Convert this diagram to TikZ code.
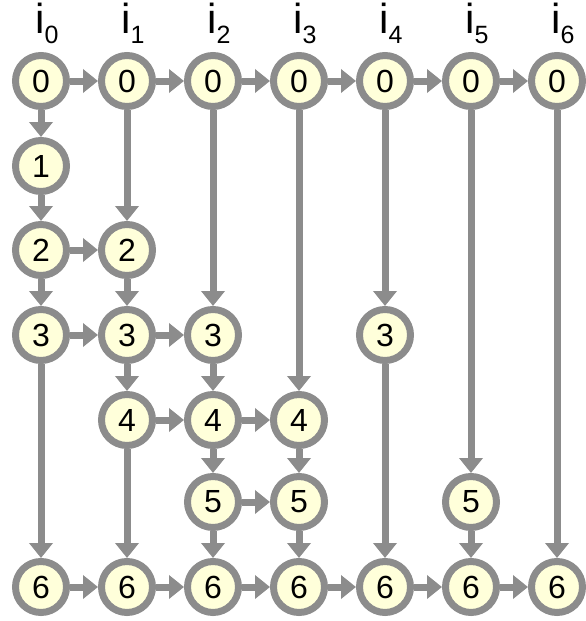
\documentclass[tikz,border=0pt]{standalone}
\usepackage{fontspec}
\setmainfont{Liberation Sans}
\usetikzlibrary{arrows.meta}
\definecolor{edgegray}{RGB}{140,140,140}
\definecolor{nodefill}{RGB}{255,255,218}
\begin{document}
\begin{tikzpicture}[x=1pt,y=-1pt,
  vtx/.style={circle,draw=edgegray,fill=nodefill,line width=7pt,minimum size=51pt,inner sep=0pt,font=\fontsize{32}{32}\selectfont},
  link/.style={draw=edgegray,line width=7pt,-{Triangle[width=23pt,length=15pt]}},
  lbl/.style={anchor=base,inner sep=0pt,font=\fontsize{42}{42}\selectfont}]
\useasboundingbox (0,0) rectangle (586,621);
% column labels
\node[lbl] (l0) at (40,33) {i\rlap{\raisebox{-10pt}{\fontsize{25}{25}\selectfont 0}}};
\node[lbl] (l1) at (126,33) {i\rlap{\raisebox{-10pt}{\fontsize{25}{25}\selectfont 1}}};
\node[lbl] (l2) at (212,33) {i\rlap{\raisebox{-10pt}{\fontsize{25}{25}\selectfont 2}}};
\node[lbl] (l3) at (298,33) {i\rlap{\raisebox{-10pt}{\fontsize{25}{25}\selectfont 3}}};
\node[lbl] (l4) at (384,33) {i\rlap{\raisebox{-10pt}{\fontsize{25}{25}\selectfont 4}}};
\node[lbl] (l5) at (470,33) {i\rlap{\raisebox{-10pt}{\fontsize{25}{25}\selectfont 5}}};
\node[lbl] (l6) at (556,33) {i\rlap{\raisebox{-10pt}{\fontsize{25}{25}\selectfont 6}}};
% row 0
\node[vtx] (a0) at (41,81) {0};
\node[vtx] (b0) at (127,81) {0};
\node[vtx] (c0) at (213,81) {0};
\node[vtx] (d0) at (299,81) {0};
\node[vtx] (e0) at (385,81) {0};
\node[vtx] (f0) at (471,81) {0};
\node[vtx] (g0) at (557,81) {0};
% row 1
\node[vtx] (a1) at (41,166) {1};
% row 2
\node[vtx] (a2) at (41,250) {2};
\node[vtx] (b2) at (127,250) {2};
% row 3
\node[vtx] (a3) at (41,335) {3};
\node[vtx] (b3) at (127,335) {3};
\node[vtx] (c3) at (213,335) {3};
\node[vtx] (e3) at (385,335) {3};
% row 4
\node[vtx] (b4) at (127,420) {4};
\node[vtx] (c4) at (213,420) {4};
\node[vtx] (d4) at (299,420) {4};
% row 5
\node[vtx] (c5) at (213,502) {5};
\node[vtx] (d5) at (299,502) {5};
\node[vtx] (f5) at (471,502) {5};
% row 6
\node[vtx] (a6) at (41,587) {6};
\node[vtx] (b6) at (127,587) {6};
\node[vtx] (c6) at (213,587) {6};
\node[vtx] (d6) at (299,587) {6};
\node[vtx] (e6) at (385,587) {6};
\node[vtx] (f6) at (471,587) {6};
\node[vtx] (g6) at (557,587) {6};
% horizontal links
\draw[link] (a0) -- (b0);
\draw[link] (b0) -- (c0);
\draw[link] (c0) -- (d0);
\draw[link] (d0) -- (e0);
\draw[link] (e0) -- (f0);
\draw[link] (f0) -- (g0);
\draw[link] (a2) -- (b2);
\draw[link] (a3) -- (b3);
\draw[link] (b3) -- (c3);
\draw[link] (b4) -- (c4);
\draw[link] (c4) -- (d4);
\draw[link] (c5) -- (d5);
\draw[link] (a6) -- (b6);
\draw[link] (b6) -- (c6);
\draw[link] (c6) -- (d6);
\draw[link] (d6) -- (e6);
\draw[link] (e6) -- (f6);
\draw[link] (f6) -- (g6);
% vertical links
\draw[link] (a0) -- (a1);
\draw[link] (a1) -- (a2);
\draw[link] (a2) -- (a3);
\draw[link] (a3) -- (a6);
\draw[link] (b0) -- (b2);
\draw[link] (b2) -- (b3);
\draw[link] (b3) -- (b4);
\draw[link] (b4) -- (b6);
\draw[link] (c0) -- (c3);
\draw[link] (c3) -- (c4);
\draw[link] (c4) -- (c5);
\draw[link] (c5) -- (c6);
\draw[link] (d0) -- (d4);
\draw[link] (d4) -- (d5);
\draw[link] (d5) -- (d6);
\draw[link] (e0) -- (e3);
\draw[link] (e3) -- (e6);
\draw[link] (f0) -- (f5);
\draw[link] (f5) -- (f6);
\draw[link] (g0) -- (g6);
\end{tikzpicture}
\end{document}
